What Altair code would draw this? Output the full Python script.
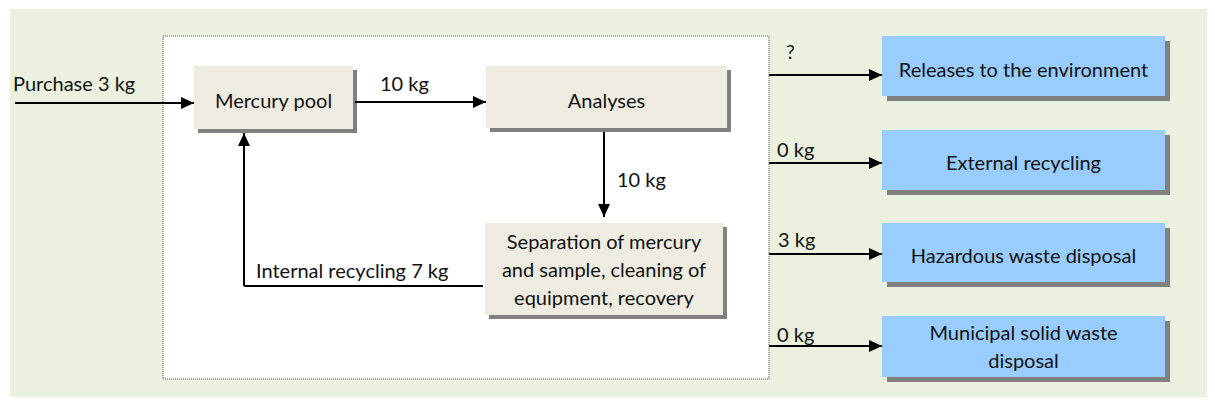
import altair as alt
import pandas as pd

W, H = 1199, 389
X0, Y0 = 8, 8
XS = alt.Scale(domain=[X0, X0 + W], nice=False, zero=False)
YS = alt.Scale(domain=[Y0, Y0 + H], nice=False, zero=False, reverse=True)

# ---- process boxes ----
box_labels = ["Mercury pool", "Analyses",
              "Separation of mercury\nand sample, cleaning of\nequipment, recovery",
              "Releases to the environment", "External recycling",
              "Hazardous waste disposal", "Municipal solid waste\ndisposal"]
box_x1 = [194, 486, 485, 882, 882, 882, 882]
box_x2 = [353, 727, 723, 1165, 1165, 1165, 1165]
box_y1 = [66, 66, 223, 36, 130, 223, 316]
box_y2 = [129, 128, 315, 96, 190, 282, 377]
box_fill = ["#EEECE1", "#EEECE1", "#EEECE1", "#99CCFF", "#99CCFF", "#99CCFF", "#99CCFF"]
box_shadow = [4, 4, 4, 5, 5, 5, 5]
box_text_y = [108, 108, 249, 77, 170, 263, 340]

# ---- flow arrows (start -> tip) ----
flow_x1 = [15, 355, 604, 483, 769, 769, 769, 769]
flow_y1 = [103, 102, 132, 286, 75, 163, 254, 346]
flow_x2 = [194, 486, 604, 244, 882, 882, 882, 882]
flow_y2 = [103, 102, 217, 286, 75, 163, 254, 346]
flow_head = [True, True, True, False, True, True, True, True]
# extra segment of internal recycling going up to the mercury pool
rec_x1, rec_y1, rec_x2, rec_y2 = [244], [286], [244], [133]

flow_labels = ["Purchase 3 kg", "10 kg", "10 kg", "Internal recycling 7 kg",
               "?", "0 kg", "3 kg", "0 kg"]
flow_label_x = [13, 380, 617, 256, 786, 777, 778, 777]
flow_label_y = [91, 91, 187, 278, 59, 157, 247, 342]

FONT = "Lato"
FS = 20

bg = pd.DataFrame({"x": [10], "x2": [X0 + W], "y": [9], "y2": [Y0 + H]})
frame = pd.DataFrame({"x": [163], "x2": [769], "y": [36], "y2": [379]})

boxes = pd.DataFrame({"label": box_labels, "x": box_x1, "x2": box_x2,
                      "y": box_y1, "y2": box_y2, "fill": box_fill,
                      "off": box_shadow, "ty": box_text_y})
boxes["sx"] = boxes["x"] + boxes["off"]
boxes["sx2"] = boxes["x2"] + boxes["off"]
boxes["sy"] = boxes["y"] + boxes["off"]
boxes["sy2"] = boxes["y2"] + boxes["off"]
boxes["tx"] = (boxes["x"] + boxes["x2"]) / 2

segs = pd.DataFrame({"x": flow_x1 + rec_x1, "y": flow_y1 + rec_y1,
                     "x2": flow_x2 + rec_x2, "y2": flow_y2 + rec_y2})

heads = []
for x1, y1, x2, y2, h in zip(flow_x1 + rec_x1, flow_y1 + rec_y1,
                             flow_x2 + rec_x2, flow_y2 + rec_y2,
                             flow_head + [True]):
    if not h:
        continue
    if y1 == y2:
        ang = 0 if x2 > x1 else 180
    else:
        ang = 90 if y2 > y1 else 270
    heads.append({"x": x2, "y": y2, "angle": ang})
heads = pd.DataFrame(heads)

labels = pd.DataFrame({"label": flow_labels, "x": flow_label_x, "y": flow_label_y})

X = lambda f="x": alt.X(f"{f}:Q", scale=XS, axis=None)
Y = lambda f="y": alt.Y(f"{f}:Q", scale=YS, axis=None)

bg_layer = alt.Chart(bg).mark_rect(color="#EBF1DE").encode(
    x=X(), x2="x2:Q", y=Y(), y2="y2:Q")

frame_layer = alt.Chart(frame).mark_rect(
    fill="#FFFFFF", stroke="#555555", strokeWidth=1, strokeDash=[1, 1]).encode(
    x=X(), x2="x2:Q", y=Y(), y2="y2:Q")

shadow_layer = alt.Chart(boxes).mark_rect(color="#808080").encode(
    x=X("sx"), x2="sx2:Q", y=Y("sy"), y2="sy2:Q")

box_layer = alt.Chart(boxes).mark_rect().encode(
    x=X(), x2="x2:Q", y=Y(), y2="y2:Q",
    fill=alt.Fill("fill:N", scale=None))

seg_layer = alt.Chart(segs).mark_rule(color="#000000", strokeWidth=2).encode(
    x=X(), x2="x2:Q", y=Y(), y2="y2:Q")

head_layer = alt.Chart(heads).mark_point(
    shape="M-1,-0.46L0,0L-1,0.46Z", filled=True, color="#000000",
    opacity=1, size=676, strokeWidth=0).encode(
    x=X(), y=Y(), angle=alt.Angle("angle:Q", scale=None))

box_text = alt.Chart(boxes).mark_text(
    font=FONT, fontSize=FS, color="#111111", align="center",
    baseline="alphabetic", lineBreak="\n", lineHeight=28).encode(
    x=X("tx"), y=Y("ty"), text="label:N")

flow_text = alt.Chart(labels).mark_text(
    font=FONT, fontSize=FS, color="#111111", align="left",
    baseline="alphabetic").encode(
    x=X(), y=Y(), text="label:N")

chart = alt.layer(bg_layer, frame_layer, shadow_layer, box_layer,
                  seg_layer, head_layer, box_text, flow_text).properties(
    width=W, height=H, padding=0, autosize=alt.AutoSizeParams(type="none"),
    background="#FFFFFF"
).configure_view(stroke=None)

chart.save("out.html", embed_options={"renderer": "svg", "actions": False})
